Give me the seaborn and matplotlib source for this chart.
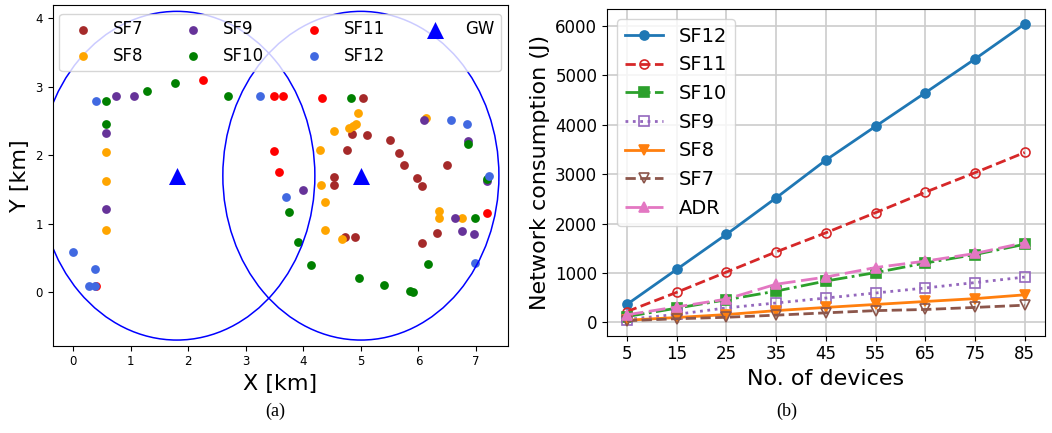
import numpy as np
import pandas as pd
import matplotlib
matplotlib.use("Agg")
import matplotlib.pyplot as plt
import seaborn as sns

# --- (a) device placement, km ---
sf7_x = [5.03, 4.84, 5.10, 5.50, 4.76, 5.67, 5.75, 6.49, 5.98, 6.07, 4.54, 4.54, 4.73, 4.89, 6.07, 6.32]
sf7_y = [2.84, 2.31, 2.30, 2.22, 2.08, 2.03, 1.86, 1.86, 1.66, 1.55, 1.68, 1.57, 0.80, 0.80, 0.72, 0.86]
sf8_x = [0.57, 0.57, 0.57, 4.95, 4.92, 4.86, 4.79, 4.54, 4.29, 4.31, 4.38, 4.38, 4.67, 6.14, 6.36, 6.36, 6.75]
sf8_y = [2.05, 1.63, 0.90, 2.61, 2.46, 2.43, 2.40, 2.36, 2.08, 1.57, 1.32, 0.91, 0.78, 2.54, 1.18, 1.08, 1.08]
sf9_x = [0.74, 1.06, 0.57, 0.57, 4.00, 6.10, 6.87, 7.19, 6.63, 6.75, 6.97]
sf9_y = [2.87, 2.87, 2.32, 1.22, 1.49, 2.52, 2.21, 1.62, 1.08, 0.89, 0.85]
sf10_x = [0.57, 1.28, 1.77, 2.69, 0.57, 4.82, 3.75, 3.90, 4.13, 4.96, 5.41, 5.86, 5.90, 6.16, 6.87, 7.19, 6.98]
sf10_y = [2.79, 2.94, 3.06, 2.87, 2.45, 2.84, 1.17, 0.73, 0.39, 0.21, 0.11, 0.015, 0.0, 0.41, 2.17, 1.65, 1.08]
sf11_x = [2.25, 3.49, 3.65, 4.32, 3.49, 3.58, 0.40, 7.19]
sf11_y = [3.10, 2.87, 2.87, 2.84, 2.06, 1.76, 0.09, 1.15]
sf12_x = [0.40, 3.25, 0.00, 0.37, 0.27, 0.37, 3.69, 6.56, 6.84, 7.23, 6.99]
sf12_y = [2.79, 2.87, 0.59, 0.34, 0.09, 0.09, 1.39, 2.52, 2.46, 1.70, 0.43]
gw_x = [1.8, 5.0]
gw_y = [1.7, 1.7]
gw_range = 2.4

# --- (b) network consumption (J) ---
devices = [5, 15, 25, 35, 45, 55, 65, 75, 85]
cons_sf12 = [360, 1070, 1780, 2520, 3285, 3970, 4650, 5335, 6045]
cons_sf11 = [215, 605, 1015, 1425, 1812, 2220, 2635, 3030, 3440]
cons_sf10 = [115, 285, 455, 630, 835, 1005, 1200, 1372, 1580]
cons_sf9 = [55, 160, 290, 390, 490, 592, 694, 803, 915]
cons_sf8 = [40, 95, 155, 235, 300, 360, 420, 478, 555]
cons_sf7 = [30, 70, 100, 143, 190, 235, 258, 300, 345]
cons_adr = [150, 310, 468, 770, 915, 1108, 1238, 1393, 1612]

sf_colors = {"SF7": "brown", "SF8": "orange", "SF9": "rebeccapurple",
             "SF10": "green", "SF11": "red", "SF12": "royalblue"}

fig = plt.figure(figsize=(10.52, 4.33), dpi=100)
ax1 = fig.add_axes([0.050, 0.202, 0.433, 0.786])
ax2 = fig.add_axes([0.577, 0.225, 0.416, 0.754])

# placement scatter
frames = []
for name, xs, ys in [("SF7", sf7_x, sf7_y), ("SF8", sf8_x, sf8_y), ("SF9", sf9_x, sf9_y),
                     ("SF10", sf10_x, sf10_y), ("SF11", sf11_x, sf11_y), ("SF12", sf12_x, sf12_y)]:
    frames.append(pd.DataFrame({"x": xs, "y": ys, "sf": name}))
pts = pd.concat(frames, ignore_index=True)

for name in sf_colors:
    sub = pts[pts["sf"] == name]
    sns.scatterplot(data=sub, x="x", y="y", color=sf_colors[name], s=40,
                    linewidth=0, ax=ax1, label=name)
sns.scatterplot(x=gw_x, y=gw_y, marker="^", color="blue", s=150, linewidth=0,
                ax=ax1, label="GW")
for cx, cy in zip(gw_x, gw_y):
    ax1.add_patch(plt.Circle((cx, cy), gw_range, fill=False, edgecolor="blue", lw=1.1))

ax1.set_xlim(-0.36, 7.56)
ax1.set_ylim(-0.78, 4.19)
ax1.set_xticks(range(0, 8))
ax1.set_yticks(range(0, 5))
ax1.tick_params(labelsize=8.5)
ax1.set_xlabel("X [km]", fontsize=16)
ax1.set_ylabel("Y [km]", fontsize=16)
ax1.legend(ncol=4, loc="upper center", fontsize=12, columnspacing=2.0,
           handletextpad=0.8)

# consumption lines
series = [
    ("SF12", cons_sf12, "tab:blue", "-", "o", True),
    ("SF11", cons_sf11, "tab:red", "--", "o", False),
    ("SF10", cons_sf10, "tab:green", "-.", "s", True),
    ("SF9", cons_sf9, "tab:purple", ":", "s", False),
    ("SF8", cons_sf8, "tab:orange", "-", "v", True),
    ("SF7", cons_sf7, "tab:brown", "--", "v", False),
    ("ADR", cons_adr, "tab:pink", (0, (6, 2)), "^", True),
]
for name, vals, col, ls, mk, filled in series:
    sns.lineplot(x=devices, y=vals, ax=ax2, color=col, linestyle=ls, marker=mk,
                 markersize=6.5, linewidth=2, label=name,
                 markerfacecolor=col if filled else "none",
                 markeredgecolor=col, markeredgewidth=1.2)

ax2.set_xticks(devices)
ax2.set_yticks(range(0, 7000, 1000))
ax2.grid(True, color="#cccccc", lw=1.2)
ax2.set_axisbelow(True)
ax2.tick_params(labelsize=12)
ax2.set_xlabel("No. of devices", fontsize=16)
ax2.set_ylabel("Network consumption (J)", fontsize=16)
ax2.legend(loc="upper left", fontsize=14)

fig.text(0.262, 0.04, "(a)", ha="center", fontsize=13, family="Liberation Serif")
fig.text(0.748, 0.04, "(b)", ha="center", fontsize=13, family="Liberation Serif")

fig.savefig("out.png", dpi=100)
